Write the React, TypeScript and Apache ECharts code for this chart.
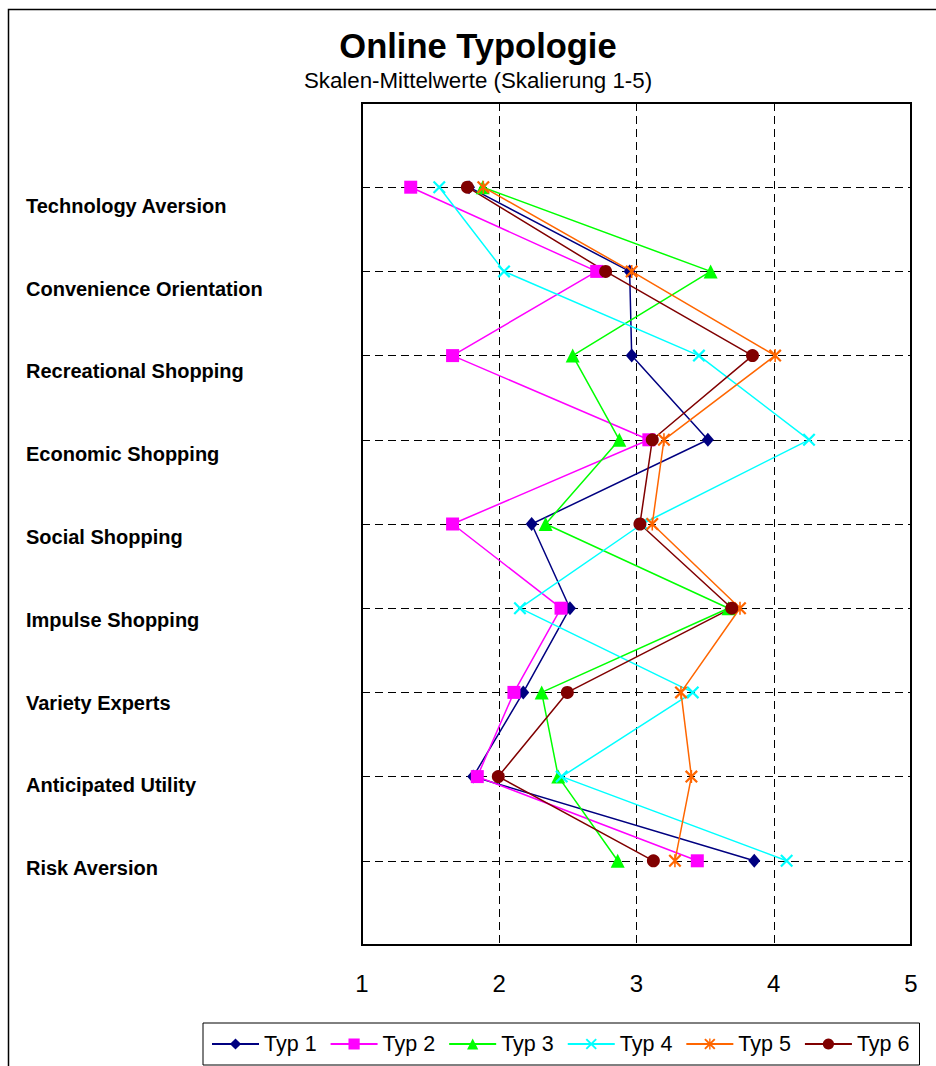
import React, { useEffect, useRef } from 'react';
import * as echarts from 'echarts';

const categories = [
  'Technology Aversion',
  'Convenience Orientation',
  'Recreational Shopping',
  'Economic Shopping',
  'Social Shopping',
  'Impulse Shopping',
  'Variety Experts',
  'Anticipated Utility',
  'Risk Aversion',
];

const seriesNames = ['Typ 1', 'Typ 2', 'Typ 3', 'Typ 4', 'Typ 5', 'Typ 6'];

const typ1 = [1.78, 2.95, 2.965, 3.52, 2.236, 2.515, 2.175, 1.81, 3.858];
const typ2 = [1.355, 2.71, 1.66, 3.09, 1.66, 2.45, 2.107, 1.84, 3.443];
const typ3 = [1.88, 3.54, 2.535, 2.875, 2.338, 3.67, 2.309, 2.43, 2.863];
const typ4 = [1.563, 2.035, 3.455, 4.257, 3.04, 2.151, 3.41, 2.455, 4.094];
const typ5 = [1.884, 2.965, 4.01, 3.2, 3.115, 3.754, 3.324, 3.4, 3.28];
const typ6 = [1.768, 2.775, 3.845, 3.115, 3.025, 3.694, 2.496, 1.993, 3.123];

const xTicks = [1, 2, 3, 4, 5];

const FONT = 'Arial, "Liberation Sans", sans-serif';

const X_PATH = 'path://M0,1.2L1.2,0L10,8.8L8.8,10Z M8.8,0L10,1.2L1.2,10L0,8.8Z';
const STAR_PATH =
  'path://M0,1.2L1.2,0L10,8.8L8.8,10Z M8.8,0L10,1.2L1.2,10L0,8.8Z M4.4,0L5.6,0L5.6,10L4.4,10Z';

const styles = [
  { color: '#000080', symbol: 'diamond', size: [12, 14] },
  { color: '#FF00FF', symbol: 'rect', size: 13 },
  { color: '#00FF00', symbol: 'triangle', size: 14 },
  { color: '#00FFFF', symbol: X_PATH, size: 13 },
  { color: '#FF6600', symbol: STAR_PATH, size: 13 },
  { color: '#800000', symbol: 'circle', size: 13 },
];

const allData = [typ1, typ2, typ3, typ4, typ5, typ6];

export default function App() {
  const ref = useRef<HTMLDivElement>(null);
  useEffect(() => {
    const chart = echarts.init(ref.current!, null, { renderer: 'svg' });
    const option: any = {
      animation: false,
      backgroundColor: '#fff',
      textStyle: { fontFamily: FONT },
      graphic: [
        {
          type: 'rect',
          shape: { x: 8.5, y: 9.5, width: 1000, height: 1100 },
          style: { fill: 'none', stroke: '#000', lineWidth: 1.5 },
          silent: true,
        },
        {
          type: 'text',
          x: 478,
          y: 46,
          style: {
            text: 'Online Typologie',
            font: `bold 34.5px ${FONT}`,
            fill: '#000',
            textAlign: 'center',
            textVerticalAlign: 'middle',
          },
        },
        {
          type: 'text',
          x: 478,
          y: 80,
          style: {
            text: 'Skalen-Mittelwerte (Skalierung 1-5)',
            font: `22.3px ${FONT}`,
            fill: '#000',
            textAlign: 'center',
            textVerticalAlign: 'middle',
          },
        },
      ],
      grid: [
        {
          left: 362,
          top: 103,
          width: 549,
          height: 842,
          show: true,
          borderColor: '#000',
          borderWidth: 2,
          backgroundColor: 'transparent',
        },
        {
          left: 362,
          top: 164.6,
          width: 549,
          height: 744.8,
          show: false,
        },
      ],
      xAxis: [
        {
          type: 'value',
          gridIndex: 0,
          min: xTicks[0],
          max: xTicks[xTicks.length - 1],
          interval: 1,
          axisLine: { show: true, lineStyle: { color: '#000', width: 1.5 } },
          axisTick: { show: true, length: 8, lineStyle: { color: '#000', width: 1 } },
          axisLabel: { fontSize: 24, color: '#000', margin: 26, fontFamily: FONT },
          splitLine: { show: true, lineStyle: { color: '#000', type: [8, 5], width: 1 } },
        },
        {
          type: 'value',
          gridIndex: 1,
          min: 0,
          max: 1,
          show: false,
        },
      ],
      yAxis: [
        {
          type: 'value',
          gridIndex: 0,
          min: 0,
          max: 10,
          interval: 1,
          inverse: true,
          axisLine: { show: false },
          axisTick: { show: false },
          axisLabel: { show: false },
          splitLine: { show: true, lineStyle: { color: '#000', type: [8, 5], width: 1 } },
        },
        {
          type: 'category',
          gridIndex: 1,
          data: categories,
          inverse: true,
          axisLine: { show: false },
          axisTick: { show: false },
          splitLine: { show: false },
          axisLabel: {
            align: 'left',
            margin: 336,
            fontSize: 20,
            fontWeight: 'bold',
            color: '#000',
            fontFamily: FONT,
          },
        },
      ],
      legend: {
        left: 203,
        top: 1023,
        orient: 'horizontal',
        padding: [10, 10, 10, 8],
        itemGap: 13,
        itemWidth: 47,
        itemHeight: 14,
        borderColor: '#000',
        borderWidth: 1,
        selectedMode: false,
        textStyle: { fontSize: 21.5, color: '#000', fontFamily: FONT },
        data: seriesNames,
      },
      series: allData.map((d, si) => ({
        name: seriesNames[si],
        type: 'line',
        xAxisIndex: 0,
        yAxisIndex: 0,
        data: d.map((v, i) => [v, i + 1]),
        symbol: styles[si].symbol,
        symbolSize: styles[si].size,
        showAllSymbol: true,
        lineStyle: { color: styles[si].color, width: 1.5 },
        itemStyle: { color: styles[si].color },
        emphasis: { disabled: true },
      })),
    };
    chart.setOption(option);
    return () => chart.dispose();
  }, []);
  return (
    <div
      ref={ref}
      style={{ position: 'absolute', left: 0, top: 0, width: 936, height: 1066, background: '#fff' }}
    />
  );
}
